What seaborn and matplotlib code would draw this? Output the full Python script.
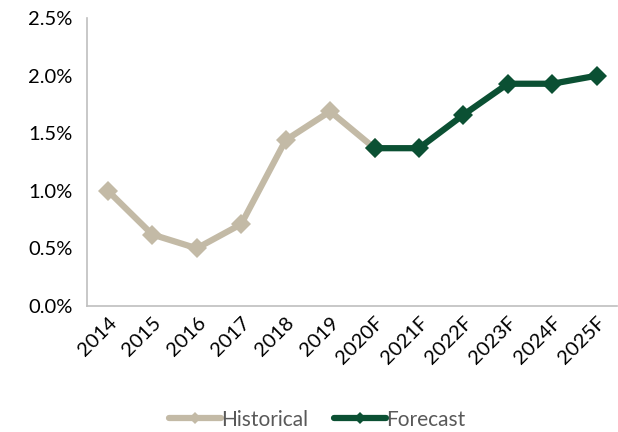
import matplotlib
matplotlib.use("Agg")
import matplotlib.pyplot as plt
import seaborn as sns
import pandas as pd
from matplotlib.ticker import PercentFormatter

# Annual growth rate, historical and forecast (in %)
hist_years = ["2014", "2015", "2016", "2017", "2018", "2019", "2020F"]
hist_values = [1.00, 0.62, 0.50, 0.71, 1.44, 1.69, 1.37]
fc_years = ["2020F", "2021F", "2022F", "2023F", "2024F", "2025F"]
fc_values = [1.37, 1.37, 1.66, 1.93, 1.93, 2.00]
series_names = ["Historical", "Forecast"]
colors = ["#C3BAA6", "#0B5033"]

df = pd.DataFrame({
    "year": hist_years + fc_years,
    "value": hist_values + fc_values,
    "series": [series_names[0]] * len(hist_years) + [series_names[1]] * len(fc_years),
})

sns.set_theme(style="white")
plt.rcParams["font.family"] = ["Lato", "DejaVu Sans"]

fig, ax = plt.subplots(figsize=(6.18, 4.32), dpi=100)
fig.subplots_adjust(left=0.14, right=0.998, top=0.958, bottom=0.292)

sns.lineplot(
    data=df, x="year", y="value", hue="series", palette=colors,
    style="series", markers={"Historical": "D", "Forecast": "D"},
    dashes=False, sort=False, linewidth=4.5, markersize=10.5,
    markeredgewidth=0, ax=ax,
)

ax.set_ylim(0, 2.5)
ax.set_yticks([0, 0.5, 1.0, 1.5, 2.0, 2.5])
ax.yaxis.set_major_formatter(PercentFormatter(decimals=1))
ax.set_xlim(-0.48, 11.45)
ax.set_xlabel("")
ax.set_ylabel("")

for side in ["top", "right"]:
    ax.spines[side].set_visible(False)
for side in ["left", "bottom"]:
    ax.spines[side].set_color("#BFBFBF")
    ax.spines[side].set_linewidth(1.2)

ax.tick_params(axis="both", length=0, labelsize=14.5, colors="#000000")
ax.tick_params(axis="y", pad=10)
ax.tick_params(axis="x", pad=6)
plt.setp(ax.get_xticklabels(), rotation=45, ha="right", rotation_mode="anchor")

leg = ax.legend(
    loc="center", bbox_to_anchor=(0.435, -0.395), ncol=2, frameon=False,
    fontsize=15, handlelength=2.5, handletextpad=0.0, columnspacing=1.2,
    markerscale=0.6, borderpad=0.1,
)
for t in leg.get_texts():
    t.set_color("#595959")

fig.savefig("out.png", dpi=100)
